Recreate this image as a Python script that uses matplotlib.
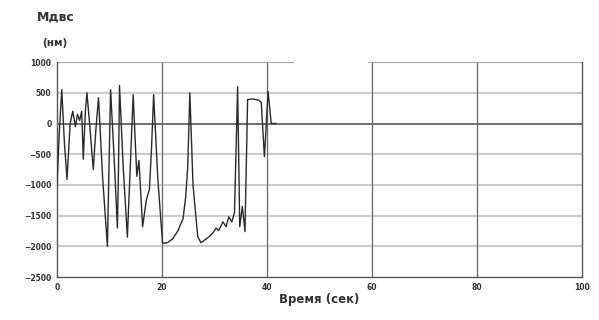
import matplotlib.pyplot as plt

# время (сек) и Мдвс (нм)
t = [0.0, 0.4, 0.9, 1.4, 1.9, 2.5, 3.0, 3.5, 3.9, 4.3, 4.7, 5.0, 5.4, 5.7,
     6.3, 6.9, 7.4, 7.9, 8.7, 9.6, 9.9, 10.2, 10.9, 11.5, 11.7, 11.9, 12.6,
     13.4, 14.0, 14.5, 15.2, 15.6, 16.3, 17.0, 17.6, 18.0, 18.4, 19.2, 20.1,
     21.0, 22.0, 23.0, 24.0, 24.5, 24.9, 25.3, 25.9, 26.8, 27.4, 28.7, 29.7,
     30.3, 30.8, 31.6, 32.2, 32.7, 33.3, 33.8, 34.4, 34.8, 35.3, 35.8, 36.3,
     37.3, 38.4, 38.9, 39.5, 40.2, 40.8, 41.7]
m = [-1000, -200, 550, -300, -910, 0, 200, -50, 150, 50, 200, -580, 200, 500,
     -100, -750, -100, 420, -900, -2000, -700, 550, -600, -1700, -800, 620, -700,
     -1850, -600, 470, -860, -600, -1680, -1250, -1070, -400, 470, -900, -1950,
     -1940, -1880, -1750, -1550, -1200, -700, 500, -1000, -1840, -1940, -1860, -1780,
     -1700, -1740, -1600, -1680, -1520, -1600, -1450, 600, -1680, -1350, -1760, 390,
     400, 380, 340, -540, 520, 0, 0]

xticks = [0, 20, 40, 60, 80, 100]
yticks = [1000, 500, 0, -500, -1000, -1500, -2000, -2500]

fig = plt.figure(figsize=(5.99, 3.2), dpi=100)
ax = fig.add_axes([0.0952, 0.134, 0.8765, 0.672])

for y in yticks[1:-1]:
    if y == 0:
        ax.axhline(y, color='#555555', lw=1.2, zorder=1)
    else:
        ax.axhline(y, color='#cccccc', lw=1.5, zorder=1)
for x in xticks[1:-1]:
    ax.axvline(x, color='#666666', lw=0.9, zorder=1)
# верхняя рамка с разрывом, как на скане
ax.axhline(1000, xmin=0, xmax=0.45, color='#a8a8a8', lw=1.6, zorder=1)
ax.axhline(1000, xmin=0.594, xmax=1, color='#a8a8a8', lw=1.6, zorder=1)

ax.plot(t, m, color='#2a2a2a', lw=1.0, zorder=3)

ax.set_xlim(0, 100)
ax.set_ylim(-2500, 1000)
ax.set_xticks(xticks)
ax.set_yticks(yticks)
ax.tick_params(length=0, labelsize=5.5, pad=4)
for lab in ax.get_xticklabels() + ax.get_yticklabels():
    lab.set_fontweight('bold')
    lab.set_color('#333333')

ax.spines['top'].set_visible(False)
for s in ['left', 'bottom', 'right']:
    ax.spines[s].set_color('#555555')
    ax.spines[s].set_linewidth(1.0)

ax.set_xlabel('Время (сек)', fontsize=8.5, fontweight='bold', color='#333333', labelpad=1)
fig.text(0.093, 0.947, 'Мдвс', fontsize=9, fontweight='bold', color='#333333', ha='center', va='center')
fig.text(0.091, 0.866, '(нм)', fontsize=7.5, fontweight='bold', color='#333333', ha='center', va='center')

fig.savefig('out.png', dpi=100)
